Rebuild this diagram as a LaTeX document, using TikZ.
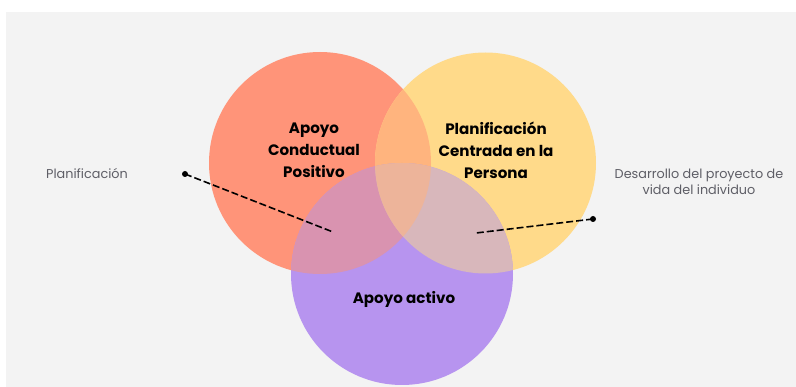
\documentclass[tikz,border=0pt]{standalone}
\usepackage{fontspec}
\setmainfont{Poppins}
\definecolor{bgg}{HTML}{F3F3F3}
\definecolor{cred}{HTML}{FF9479}
\definecolor{cyel}{HTML}{FFDA8A}
\definecolor{cpur}{HTML}{B794EF}
\definecolor{cry}{HTML}{FFB47E}
\definecolor{crp}{HTML}{D993B0}
\definecolor{cyp}{HTML}{D8B7BB}
\definecolor{crpy}{HTML}{EDB49A}
\definecolor{lblgray}{HTML}{5E5E66}
\tikzset{
  title/.style={font=\fontsize{15.1}{22}\selectfont\bfseries, text=black, align=center, inner sep=0pt},
  side/.style={font=\fontsize{12.8}{16}\selectfont, text=lblgray, align=center, inner sep=0pt},
  dotnode/.style={circle, fill=black, minimum size=6pt, inner sep=0pt},
  leader/.style={draw=black, line width=1.6pt, dash pattern=on 7pt off 3pt},
}
\begin{document}
\begin{tikzpicture}[x=1pt,y=-1pt]
\useasboundingbox (0,0) rectangle (796,387);
\fill[white] (0,0) rectangle (796,387);
\fill[bgg] (6,12) rectangle (796,387);
% circles
\def\rc{(320,163) circle[radius=111]}
\def\yc{(485.5,163) circle[radius=110.5]}
\def\pc{(402,274) circle[radius=111]}
\fill[cred] \rc;
\fill[cyel] \yc;
\fill[cpur] \pc;
\begin{scope}
  \clip \rc;
  \fill[cry] \yc;
  \fill[crp] \pc;
\end{scope}
\begin{scope}
  \clip \yc;
  \fill[cyp] \pc;
\end{scope}
\begin{scope}
  \clip \rc;
  \clip \yc;
  \fill[crpy] \pc;
\end{scope}
% titles
\node[title] (apc) at (314,150) {Apoyo\\Conductual\\Positivo};
\node[title] (pcp) at (496,150) {Planificación\\Centrada en la\\Persona};
\node[title] (aa) at (404,299) {Apoyo activo};
% side labels
\node[side] (lp) at (87,174) {Planificación};
\node[side] (ld) at (699,182) {Desarrollo del proyecto de\\vida del individuo};
% leaders
\node[dotnode] (d1) at (185,174) {};
\coordinate (e1) at (333,232);
\node[dotnode] (d2) at (593,219) {};
\coordinate (e2) at (476,233);
\draw[leader] (d1.center) -- (e1);
\draw[leader] (d2.center) -- (e2);
\end{tikzpicture}
\end{document}
